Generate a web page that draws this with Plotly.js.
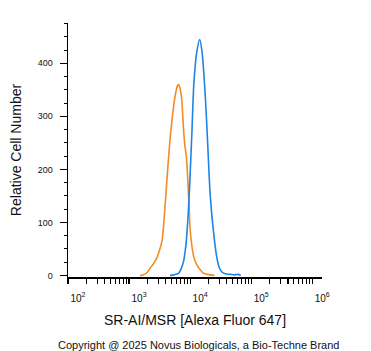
<!DOCTYPE html>
<html><head><meta charset="utf-8">
<script src="https://cdn.plot.ly/plotly-3.0.1.min.js"></script>
<style>body{margin:0;padding:0;background:#fff}#chart{width:371px;height:351px}</style>
</head><body><div id="chart"></div>
<script>
// Orange (control) histogram: intensity, relative cell count
const orangeX = [1514,1698,1995,2213,2512,2851,3162,3467,3802,4169,4677,5129,5623,6166,6457,6761,7244,7762,8128,8710,9441,10000,10715,11482,12882,14791,16596,19055,21380,25119];
const orangeY = [0,1,6,14,22,33,48,65,115,180,255,300,335,357,360,355,335,280,250,222,150,88,55,35,20,10,4,2,1,0];
// Blue (stained) histogram
const blueX = [4677,5370,6457,7079,7762,8511,9333,10000,10715,11561,12882,14355,15668,17783,19498,21380,24547,27542,30200,33497,38019,45709,52481,60256,67608];
const blueY = [0,1,4,12,25,56,118,190,272,365,422,445,422,335,243,150,75,32,14,6,3,2,1,2,0];
const yTickVals = [0,100,200,300,400];
const yTickText = ['0','100','200','300','400'];
const xDecades = [100,1000,10000,100000,1000000];
const xDecadeText = ['10<sup>2</sup>','10<sup>3</sup>','10<sup>4</sup>','10<sup>5</sup>','10<sup>6</sup>'];
const minorDigits = [1,2,3,4,5,6,7,8,9];
const xTickVals = [], xTickText = [];
xDecades.forEach((d, i) => minorDigits.forEach(m => {
  if (d*m < 1445000) { xTickVals.push(d*m); xTickText.push(m === 1 ? xDecadeText[i] : ''); }
}));

const data = [
  {x: orangeX, y: orangeY, type:'scatter', mode:'lines', line:{color:'rgb(242,140,38)', width:1.6, shape:'spline', smoothing:0.8}, hoverinfo:'skip'},
  {x: blueX, y: blueY, type:'scatter', mode:'lines', line:{color:'rgb(30,132,230)', width:1.6, shape:'spline', smoothing:0.8}, hoverinfo:'skip'}
];
const layout = {
  width:371, height:351,
  margin:{l:68, r:49, t:23, b:74},
  paper_bgcolor:'#fff', plot_bgcolor:'#fff',
  showlegend:false,
  font:{family:'Liberation Sans, Arial, sans-serif', color:'#111'},
  xaxis:{
    type:'log', range:[2,6.16], showgrid:false, zeroline:false,
    showline:true, linecolor:'#000', linewidth:1.5,
    ticks:'outside', ticklen:5, tickwidth:1.2, tickcolor:'#000',
    tickmode:'array', tickvals:xTickVals, ticktext:xTickText,
    ticklabelshift:10, ticklabelstandoff:6,
    tickfont:{size:10, color:'#111'},
    title:{text:'SR-AI/MSR [Alexa Fluor 647]', font:{size:14, color:'#111'}, standoff:12}
  },
  yaxis:{
    range:[-3,476], showgrid:false, zeroline:false,
    showline:true, linecolor:'#000', linewidth:1.5,
    ticks:'outside', ticklen:7, tickwidth:1.5, tickcolor:'#000',
    tickvals:yTickVals, ticktext:yTickText, ticklabelstandoff:5,
    tickfont:{size:9, color:'#111'},
    minor:{dtick:25, tick0:0, ticks:'outside', ticklen:3, tickwidth:1, tickcolor:'#000', showgrid:false},
    title:{text:'Relative Cell Number', font:{size:14, color:'#111'}, standoff:13}
  },
  annotations:[{
    text:'Copyright @ 2025 Novus Biologicals, a Bio-Techne Brand',
    xref:'paper', yref:'paper', x:0.5, y:0, xanchor:'center', yanchor:'middle',
    yshift:-68, xshift:3, showarrow:false, font:{size:11, color:'#111'}
  }]
};
Plotly.newPlot('chart', data, layout, {displayModeBar:false, staticPlot:true});
</script></body></html>
